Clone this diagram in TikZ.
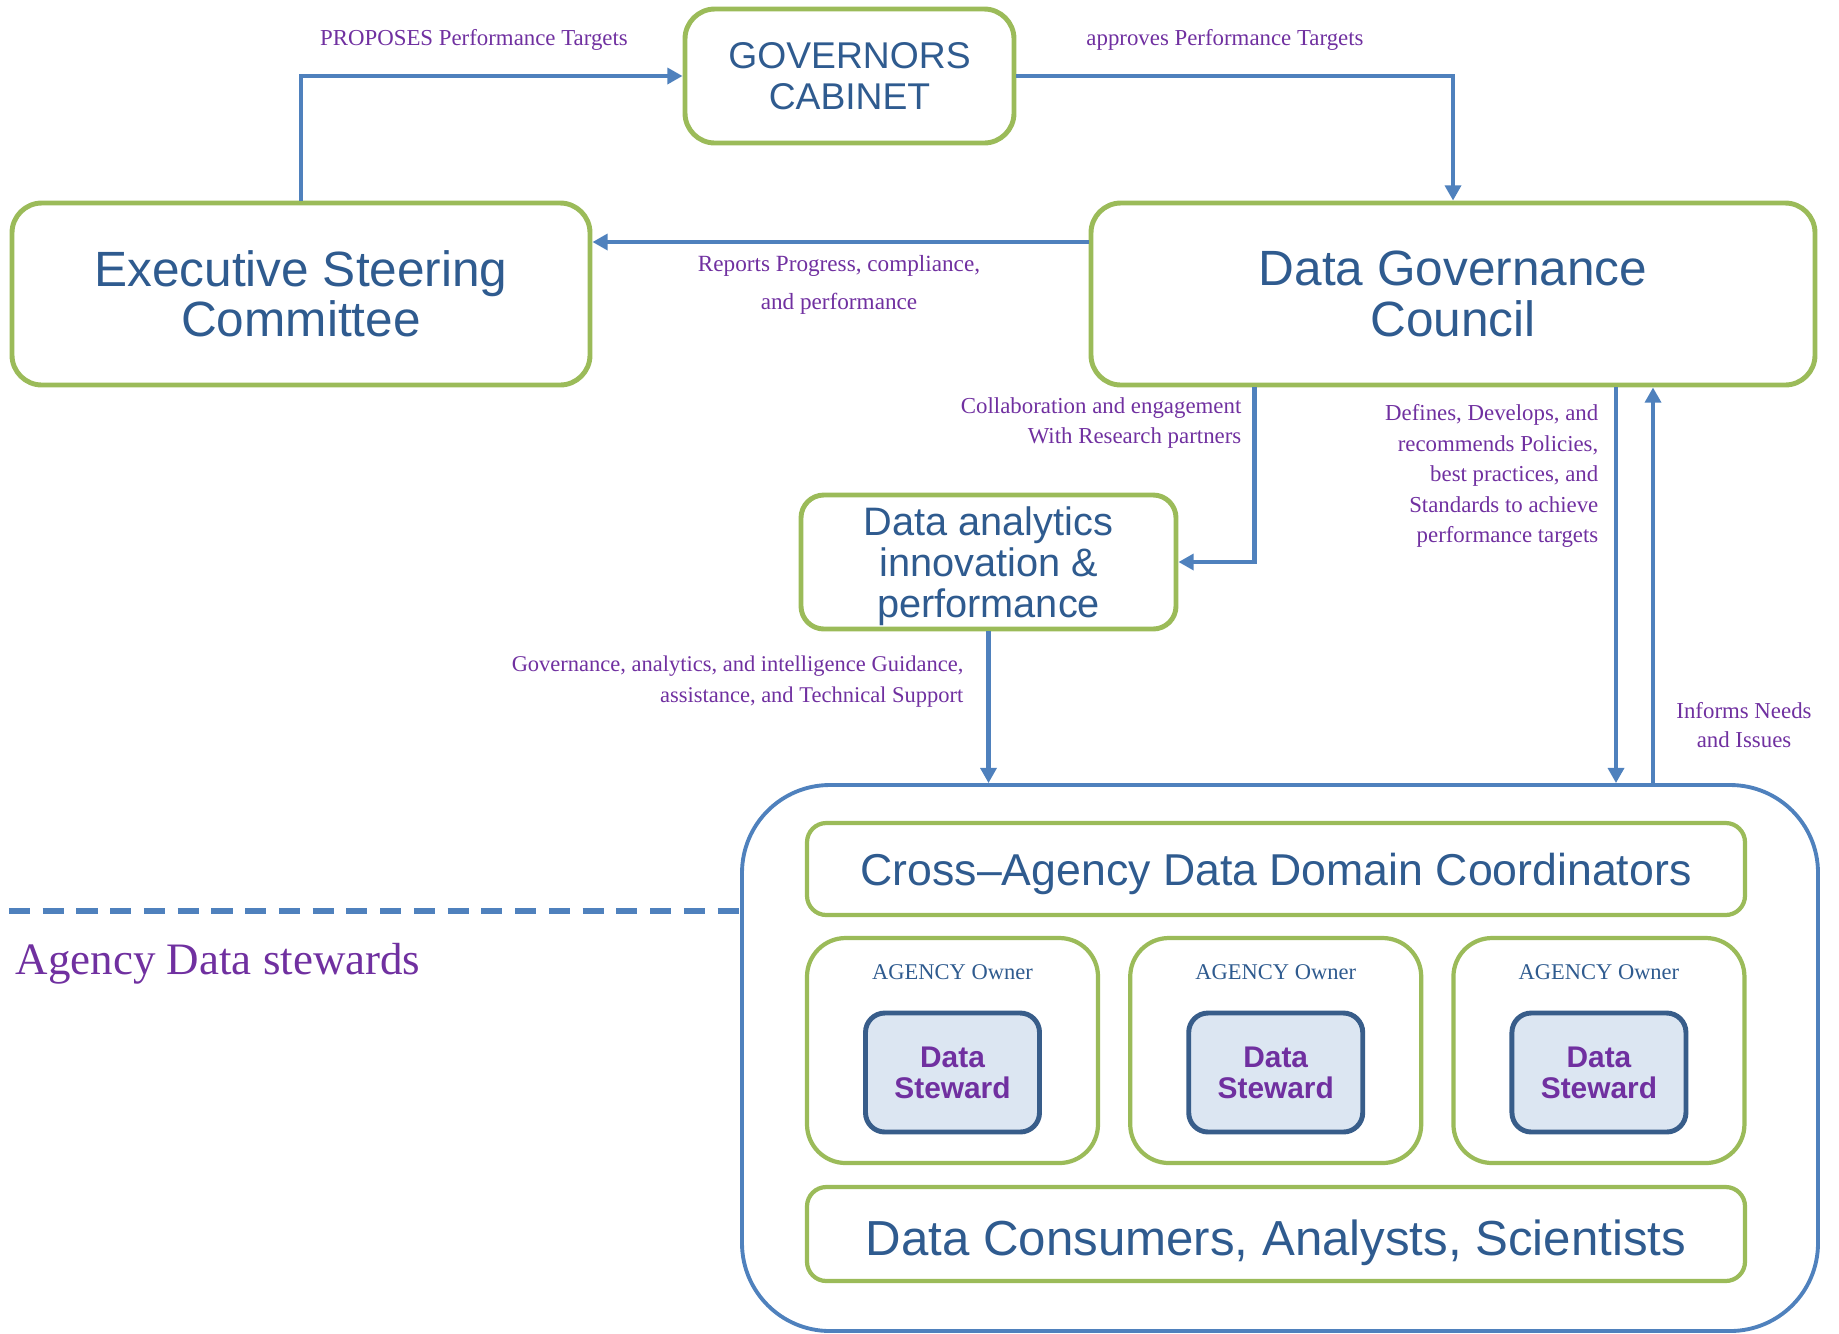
\documentclass[tikz,border=0pt]{standalone}
\usepackage{fontspec}
\setmainfont{Liberation Serif}
\setsansfont{Liberation Sans}
\usepackage{tikz}
\usetikzlibrary{arrows.meta,positioning,calc}
\definecolor{boxgreen}{HTML}{9BBB59}
\definecolor{flowblue}{HTML}{4F81BD}
\definecolor{titleblue}{HTML}{2F5B8F}
\definecolor{notepurple}{HTML}{7030A0}
\definecolor{stewardfill}{HTML}{DCE6F2}
\definecolor{stewardline}{HTML}{385D8A}
\newcommand{\notefont}{\fontsize{6.5}{8.7}\selectfont}

\begin{document}
\begin{tikzpicture}[
			govbox/.style={
				rectangle,
				draw=boxgreen,
				line width=1.4pt,
				rounded corners=8.5pt,
				fill=white,
				inner sep=0pt,
				align=center,
				text=titleblue,
				font=\sffamily
			},
			ownerbox/.style={
				govbox,
				line width=1.2pt,
				rounded corners=11pt,
				minimum width=2.91cm,
				minimum height=2.25cm
			},
			bandbox/.style={
				govbox,
				line width=1.2pt,
				rounded corners=5.5pt,
				minimum width=9.38cm,
				text depth=0pt
			},
			stewardbox/.style={
				rectangle,
				draw=stewardline,
				line width=1.4pt,
				rounded corners=5.5pt,
				fill=stewardfill,
				minimum width=1.74cm,
				minimum height=1.19cm,
				align=center,
				text=notepurple,
				font=\sffamily\bfseries\fontsize{8.5}{8.8}\selectfont
			},
			note/.style={
				text=notepurple,
				font=\notefont,
				inner sep=0pt
			},
			arrow/.style={-{Triangle[length=4.3pt,width=4.5pt]}, flowblue, line width=1.4pt},
			dashline/.style={flowblue, line width=1.5pt, dash pattern=on 6pt off 3.6pt}
			]
			\useasboundingbox (0,0) rectangle (18.39,-13.33);
			% Upper level of the governance structure
			\node[govbox, minimum width=3.29cm, minimum height=1.34cm, font=\sffamily\fontsize{10.6}{11.7}\selectfont] (cabinet) at (8.495,-0.76) {GOVERNORS\\CABINET};
			\node[govbox, minimum width=5.78cm, minimum height=1.82cm, font=\sffamily\fontsize{14.1}{14.3}\selectfont] (steering) at (3.01,-2.94) {Executive Steering\\Committee};
			\node[govbox, minimum width=7.24cm, minimum height=1.82cm, font=\sffamily\fontsize{14.1}{14.3}\selectfont] (council) at (14.53,-2.94) {Data Governance\\Council};
			\node[govbox, rounded corners=6.5pt, minimum width=3.75cm, minimum height=1.34cm, text depth=0pt, font=\sffamily\fontsize{11.3}{11.7}\selectfont] (analytics) at (9.885,-5.62) {Data analytics\\innovation \&\\performance};
			% Agency level container with its bands and owners
			\node[rectangle, draw=flowblue, line width=1.1pt, rounded corners=25pt, minimum width=10.76cm, minimum height=5.46cm] (agency) at (12.80,-10.58) {};
			\node[bandbox, minimum height=0.92cm, font=\sffamily\fontsize{12.7}{13}\selectfont] (coordinators) at (12.76,-8.69) {Cross–Agency Data Domain Coordinators};
			\node[bandbox, minimum height=0.94cm, text height=12.4pt, font=\sffamily\fontsize{14}{14}\selectfont] (consumers) at (12.76,-12.34) {Data Consumers, Analysts, Scientists};
			\node[ownerbox] (ownerA) at (9.525,-10.505) {};
			\node[ownerbox, right=0.28cm of ownerA] (ownerB) {};
			\node[ownerbox, right=0.28cm of ownerB] (ownerC) {};
			\node[font=\fontsize{6.4}{7}\selectfont, text=titleblue] at ([yshift=-0.36cm]ownerA.north) {AGENCY Owner};
			\node[font=\fontsize{6.4}{7}\selectfont, text=titleblue] at ([yshift=-0.36cm]ownerB.north) {AGENCY Owner};
			\node[font=\fontsize{6.4}{7}\selectfont, text=titleblue] at ([yshift=-0.36cm]ownerC.north) {AGENCY Owner};
			\node[stewardbox] (stewardA) at ([yshift=-0.22cm]ownerA.center) {Data\\Steward};
			\node[stewardbox] (stewardB) at ([yshift=-0.22cm]ownerB.center) {Data\\Steward};
			\node[stewardbox] (stewardC) at ([yshift=-0.22cm]ownerC.center) {Data\\Steward};
			% Boundary of the agency level
			\coordinate (dashstart) at (0.09,-9.11);
			\draw[dashline] (dashstart) -- (dashstart -| agency.west);
			\node[text=notepurple, font=\fontsize{12.8}{13}\selectfont, anchor=west, inner sep=0pt] (stewardsnote) at (0.15,-9.64) {Agency Data stewards};
			% Flows between the bodies
			\draw[arrow] (steering.north) |- (cabinet.west);
			\draw[arrow] (cabinet.east) -| (council.north);
			\draw[arrow] ([yshift=0.52cm]council.west) -- ([yshift=0.52cm]steering.east);
			\draw[arrow] ([xshift=1.66cm]council.south west) |- (analytics.east);
			\draw[arrow] (analytics.south) -- (analytics.south |- agency.north);
			\draw[arrow] ([xshift=1.63cm]council.south) -- ([xshift=1.63cm]council.south |- agency.north);
			\draw[arrow] ([xshift=2.0cm]council.south |- agency.north) -- ([xshift=2.0cm]council.south);
			% Labels on the flows
			\node[note] (proposes) at (4.74,-0.40) {PROPOSES Performance Targets};
			\node[note] (approves) at (12.25,-0.40) {approves Performance Targets};
			\node[note, align=center, font=\fontsize{6.6}{11}\selectfont] (reports) at (8.39,-2.85) {Reports Progress, compliance,\\and performance};
			\node[note, align=right, anchor=east, font=\fontsize{6.5}{8.5}\selectfont] (collab) at (12.42,-4.23) {Collaboration and engagement\\With Research partners};
			\node[note, align=right, anchor=east, font=\fontsize{6.4}{8.8}\selectfont] (guidance) at (9.64,-6.82) {Governance, analytics, and intelligence Guidance,\\assistance, and Technical Support};
			\node[note, align=right, anchor=east] (defines) at (15.99,-4.76) {Defines, Develops, and\\recommends Policies,\\best practices, and\\Standards to achieve\\performance targets};
			\node[note, align=center, font=\fontsize{6.5}{8.5}\selectfont] (informs) at (17.44,-7.25) {Informs Needs\\and Issues};
		\end{tikzpicture}
\end{document}
